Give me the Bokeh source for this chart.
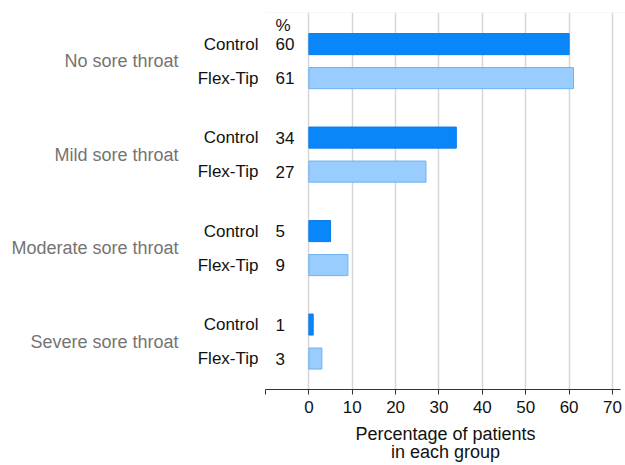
from bokeh.plotting import figure
from bokeh.models import ColumnDataSource, Range1d, FixedTicker, Span, LinearAxis
from bokeh.core.properties import value
from bokeh.embed import file_html
from bokeh.resources import INLINE

# ---- data ----
categories = ["No sore throat", "Mild sore throat", "Moderate sore throat", "Severe sore throat"]
groups = ["Control", "Flex-Tip"]
control = [60, 34, 5, 1]
flex_tip = [61, 27, 9, 3]
x_ticks = [0, 10, 20, 30, 40, 50, 60, 70]
x_title = "Percentage of patients\nin each group"

# ---- layout constants ----
GROUP_STEP = 2.75
BAR_H = 0.62
AXIS_START = -10
AXIS_END = 71.8
X_END = 73.0
Y_TOP, Y_BOTTOM = -0.93, 10.16
FONT = "Liberation Sans"
C_CONTROL = "#0a86fb"
C_FLEX = "#99ccff"

ys, xs, fills, lines, names, vals = [], [], [], [], [], []
for i, cat in enumerate(categories):
    for j, (g, series) in enumerate(zip(groups, [control, flex_tip])):
        ys.append(i * GROUP_STEP + j)
        xs.append(series[i])
        fills.append(C_CONTROL if j == 0 else C_FLEX)
        lines.append("#0a7ce8" if j == 0 else "#6eb2f0")
        names.append(g)
        vals.append(str(series[i]))
cat_ys = [i * GROUP_STEP + 0.5 for i in range(len(categories))]

src = ColumnDataSource(dict(y=ys, right=xs, fill=fills, line=lines, val=vals,
                            ax=[AXIS_START] * len(ys)))

p = figure(width=625, height=465, output_backend="svg", toolbar_location=None,
           x_range=Range1d(AXIS_START, X_END), y_range=Range1d(Y_BOTTOM, Y_TOP),
           min_border_left=265, min_border_right=0, min_border_top=12, min_border_bottom=76)
p.outline_line_color = None
p.background_fill_color = "white"
p.border_fill_color = "white"

p.hbar(y="y", left=0, right="right", height=BAR_H, fill_color="fill", line_color="line",
       line_width=1, source=src)

# values
p.text(x="ax", y="y", text="val", source=src, x_offset=10, text_align="left",
       text_baseline="middle", text_font=value(FONT), text_font_size="17px", text_color="#111111")
# percent sign
p.text(x=[AXIS_START], y=[-0.55], text=["%"], x_offset=10, text_align="left",
       text_baseline="middle", text_font=value(FONT), text_font_size="17px", text_color="#111111")

# inner y axis: group names
ya = p.yaxis[0]
ya.ticker = FixedTicker(ticks=ys)
ya.major_label_overrides = {y: n for y, n in zip(ys, names)}
ya.axis_line_color = None
ya.major_tick_line_color = None
ya.minor_tick_line_color = None
ya.major_tick_in = 0
ya.major_tick_out = 0
ya.major_label_standoff = 7
ya.major_label_text_font = FONT
ya.major_label_text_font_size = "17px"
ya.major_label_text_color = "#111111"
p.ygrid.visible = False

# outer y axis: category names
ya2 = LinearAxis(ticker=FixedTicker(ticks=cat_ys),
                 major_label_overrides={y: c for y, c in zip(cat_ys, categories)},
                 axis_line_color=None, major_tick_line_color=None, minor_tick_line_color=None,
                 major_tick_in=0, major_tick_out=0, major_label_standoff=16,
                 major_label_text_font=FONT, major_label_text_font_size="18px",
                 major_label_text_color="#747474")
p.add_layout(ya2, "left")

# x axis
xa = p.xaxis[0]
xa.ticker = FixedTicker(ticks=[AXIS_START] + x_ticks)
xa.major_label_overrides = {AXIS_START: ""}
xa.bounds = (AXIS_START, AXIS_END)
xa.minor_tick_line_color = None
xa.major_tick_in = 0
xa.major_tick_out = 5
xa.axis_line_color = "#333333"
xa.major_tick_line_color = "#333333"
xa.major_label_standoff = 6
xa.major_label_text_font = FONT
xa.major_label_text_font_size = "17px"
xa.major_label_text_color = "#111111"
xa.axis_label = x_title
xa.axis_label_standoff = 8
xa.axis_label_text_font = FONT
xa.axis_label_text_font_size = "18px"
xa.axis_label_text_font_style = "normal"
xa.axis_label_text_color = "#111111"
xa.axis_label_text_line_height = 0.9

p.xgrid.ticker = FixedTicker(ticks=x_ticks)
p.xgrid.grid_line_color = "#d6d6d6"
p.xgrid.grid_line_width = 1.5

p.add_layout(Span(location=Y_TOP, dimension="width", line_color="#f0f0f0", line_width=1))

open("out.html", "w").write(file_html(p, INLINE))
